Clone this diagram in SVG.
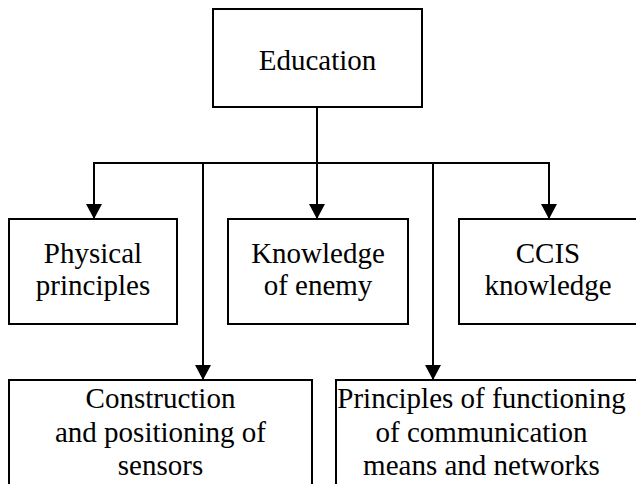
<svg xmlns="http://www.w3.org/2000/svg" width="636" height="484" viewBox="0 0 636 484">
<style>
.box{fill:#fff;stroke:#000;stroke-width:2}
.t{font-family:'Liberation Serif','DejaVu Serif',serif;font-size:29px;fill:#000;text-anchor:middle}
.c{stroke:#000;stroke-width:2;fill:none}
</style>
<defs>
<marker id="ah" markerUnits="userSpaceOnUse" markerWidth="16" markerHeight="17" refX="15" refY="8" orient="auto">
<path d="M0,0 L15,8 L0,16 Z" fill="#000"/>
</marker>
</defs>
<rect width="636" height="484" fill="#fff"/>
<g id="connectors">
<line class="c" x1="317" y1="107" x2="317" y2="163"/>
<line class="c" x1="93" y1="163" x2="550" y2="163"/>
<line class="c" x1="94" y1="163" x2="94" y2="219" marker-end="url(#ah)"/>
<line class="c" x1="317" y1="163" x2="317" y2="219" marker-end="url(#ah)"/>
<line class="c" x1="549" y1="163" x2="549" y2="219" marker-end="url(#ah)"/>
<line class="c" x1="203" y1="163" x2="203" y2="380" marker-end="url(#ah)"/>
<line class="c" x1="433" y1="163" x2="433" y2="380" marker-end="url(#ah)"/>
</g>
<g id="education">
<rect class="box" x="213" y="9" width="209" height="98"/>
<text class="t" font-family="Liberation Serif" x="317.5" y="70">Education</text>
</g>
<g id="physical">
<rect class="box" x="9" y="219" width="168" height="105"/>
<text class="t" x="93" y="263">Physical</text>
<text class="t" x="93" y="295">principles</text>
</g>
<g id="enemy">
<rect class="box" x="228" y="219" width="180" height="105"/>
<text class="t" x="318" y="263">Knowledge</text>
<text class="t" x="318" y="295">of enemy</text>
</g>
<g id="ccis">
<rect class="box" x="459" y="219" width="190" height="105"/>
<text class="t" x="548" y="263">CCIS</text>
<text class="t" x="548" y="295">knowledge</text>
</g>
<g id="construction">
<rect class="box" x="9" y="380" width="303" height="120"/>
<text class="t" x="160.5" y="408">Construction</text>
<text class="t" x="160.5" y="442">and positioning of</text>
<text class="t" x="160.5" y="475">sensors</text>
</g>
<g id="communication">
<rect class="box" x="336" y="380" width="310" height="120"/>
<text class="t" x="481.5" y="408">Principles of functioning</text>
<text class="t" x="481.5" y="442">of communication</text>
<text class="t" x="481.5" y="475">means and networks</text>
</g>
</svg>
